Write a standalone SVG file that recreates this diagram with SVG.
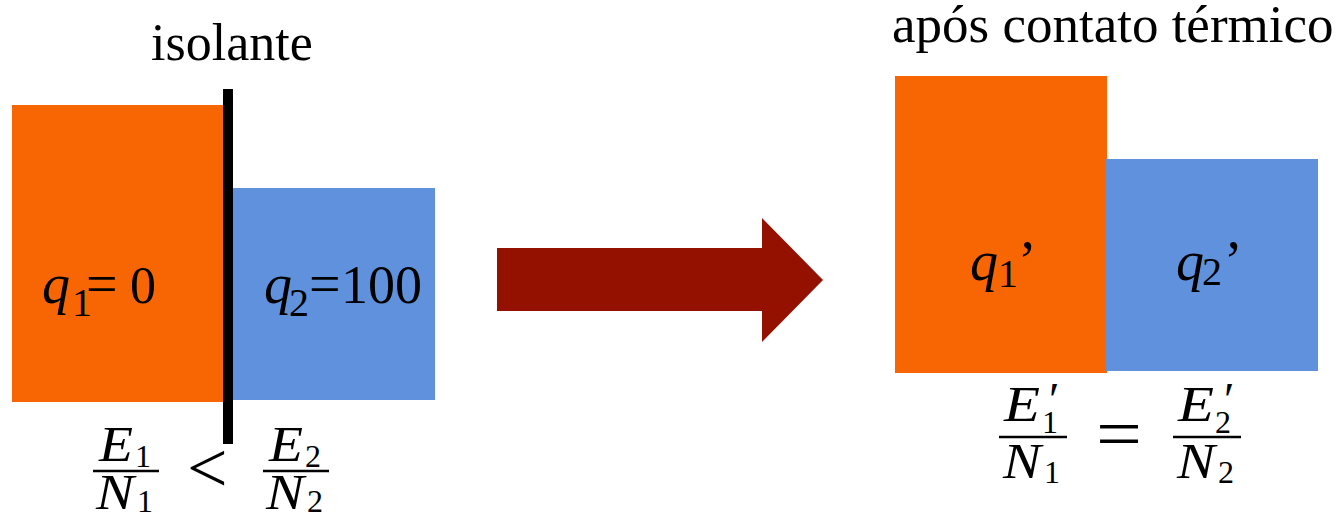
<svg xmlns="http://www.w3.org/2000/svg" width="1342" height="515" viewBox="0 0 1342 515">
<style>
.t{font-family:"Liberation Serif","Times New Roman",serif;fill:#000}
.i{font-style:italic}
.org{fill:#F76603}
.blu{fill:#5F91DC}
.bar{stroke:#000;stroke-width:2.5}
.m{font-size:50px}
.s{font-size:32px}
</style>
<rect width="1342" height="515" fill="#fff"/>
<g id="left-box1">
<rect class="org" x="12" y="105" width="212" height="297"/>
<text class="t i" x="42" y="303" font-size="56">q</text>
<text class="t" x="72" y="316" font-size="40">1</text>
<text class="t" x="86" y="303" font-size="56">=</text>
<text class="t" x="130" y="303" font-size="52">0</text>
</g>
<g id="left-box2">
<rect class="blu" x="233" y="188" width="202" height="212"/>
<text class="t i" x="264" y="303" font-size="56">q</text>
<text class="t" x="289" y="316" font-size="40">2</text>
<text class="t" x="309" y="303" font-size="56">=</text>
<text class="t" x="341" y="303" font-size="54">100</text>
</g>
<g id="insulator">
<rect x="223" y="89" width="10" height="355" fill="#000"/>
<text class="t" x="151" y="60" font-size="52">isolante</text>
</g>
<g id="left-eq">
<text class="t i m" x="99" y="461" textLength="34" lengthAdjust="spacingAndGlyphs">E</text>
<text class="t s" x="135" y="467">1</text>
<line class="bar" x1="93" y1="471" x2="159" y2="471"/>
<text class="t i m" x="96" y="509" textLength="38" lengthAdjust="spacingAndGlyphs">N</text>
<text class="t s" x="137" y="512">1</text>
<text class="t" x="187" y="492" font-size="72">&lt;</text>
<text class="t i m" x="269" y="461" textLength="34" lengthAdjust="spacingAndGlyphs">E</text>
<text class="t s" x="305" y="467">2</text>
<line class="bar" x1="263" y1="471" x2="329" y2="471"/>
<text class="t i m" x="266" y="509" textLength="38" lengthAdjust="spacingAndGlyphs">N</text>
<text class="t s" x="307" y="512">2</text>
</g>
<g id="connectors">
<polygon fill="#941100" points="497,248 762,248 762,218 823,280 762,342 762,311 497,311"/>
</g>
<g id="right-box1">
<rect class="org" x="895" y="76" width="212" height="297"/>
<text class="t i" x="970" y="280" font-size="56">q</text>
<text class="t" x="998" y="287" font-size="40">1</text>
<text class="t" x="1018" y="280" font-size="56">’</text>
</g>
<g id="right-box2">
<rect class="blu" x="1106" y="159" width="212" height="212"/>
<text class="t i" x="1176" y="280" font-size="56">q</text>
<text class="t" x="1202" y="285" font-size="40">2</text>
<text class="t" x="1224" y="280" font-size="56">’</text>
</g>
<g id="right-title">
<text class="t" x="892" y="42" font-size="53">após contato térmico</text>
</g>
<g id="right-eq">
<text class="t i m" x="1004" y="421" textLength="36" lengthAdjust="spacingAndGlyphs">E</text>
<text class="t i" x="1046" y="416" font-size="48">′</text>
<text class="t s" x="1042" y="433">1</text>
<line class="bar" x1="999" y1="437" x2="1067" y2="437"/>
<text class="t i m" x="1003" y="478" textLength="38" lengthAdjust="spacingAndGlyphs">N</text>
<text class="t s" x="1044" y="483">1</text>
<text class="t" x="1096" y="458" font-size="72" textLength="46" lengthAdjust="spacingAndGlyphs">=</text>
<text class="t i m" x="1178" y="421" textLength="36" lengthAdjust="spacingAndGlyphs">E</text>
<text class="t i" x="1221" y="416" font-size="48">′</text>
<text class="t s" x="1215" y="433">2</text>
<line class="bar" x1="1173" y1="437" x2="1241" y2="437"/>
<text class="t i m" x="1177" y="478" textLength="38" lengthAdjust="spacingAndGlyphs">N</text>
<text class="t s" x="1218" y="483">2</text>
</g>
</svg>
